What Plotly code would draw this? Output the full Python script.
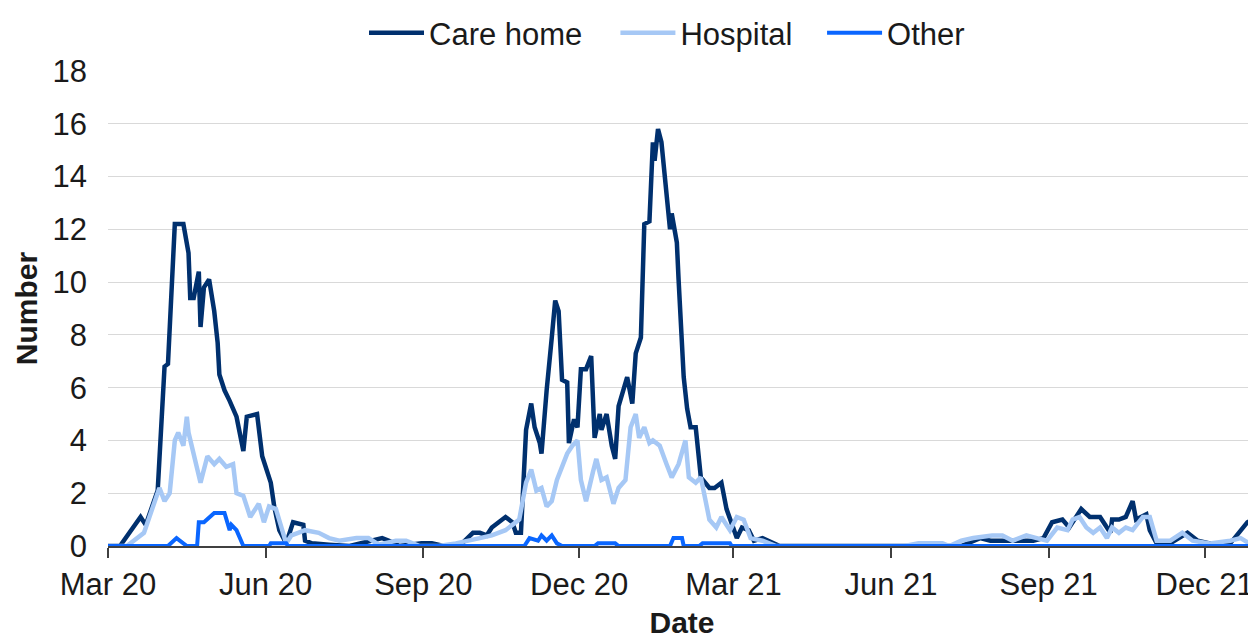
import plotly.graph_objects as go

# ---------------- data ----------------
care_dates = [
    "2020-03-01", "2020-03-08", "2020-03-20", "2020-03-23", "2020-03-30", "2020-04-03", "2020-04-05",
    "2020-04-07", "2020-04-09", "2020-04-14", "2020-04-17", "2020-04-18", "2020-04-20", "2020-04-23",
    "2020-04-24", "2020-04-26", "2020-04-29", "2020-05-02", "2020-05-04", "2020-05-05", "2020-05-08",
    "2020-05-11", "2020-05-15", "2020-05-19", "2020-05-21", "2020-05-27", "2020-05-30", "2020-06-04",
    "2020-06-06", "2020-06-09", "2020-06-13", "2020-06-17", "2020-06-23", "2020-06-24", "2020-06-28",
    "2020-07-08", "2020-07-20", "2020-08-08", "2020-08-12", "2020-08-18", "2020-08-31", "2020-09-06",
    "2020-09-13", "2020-09-22", "2020-09-30", "2020-10-04", "2020-10-08", "2020-10-11", "2020-10-15",
    "2020-10-19", "2020-10-23", "2020-10-25", "2020-10-28", "2020-10-31", "2020-11-03", "2020-11-05",
    "2020-11-08", "2020-11-09", "2020-11-12", "2020-11-14", "2020-11-15", "2020-11-17", "2020-11-19",
    "2020-11-21", "2020-11-24", "2020-11-25", "2020-11-28", "2020-11-30", "2020-12-02", "2020-12-05",
    "2020-12-08", "2020-12-10", "2020-12-13", "2020-12-14", "2020-12-17", "2020-12-20", "2020-12-22",
    "2020-12-24", "2020-12-27", "2020-12-29", "2021-01-01", "2021-01-03", "2021-01-06", "2021-01-08",
    "2021-01-11", "2021-01-13", "2021-01-14", "2021-01-16", "2021-01-18", "2021-01-21", "2021-01-23",
    "2021-01-24", "2021-01-27", "2021-01-28", "2021-01-31", "2021-02-02", "2021-02-04", "2021-02-07",
    "2021-02-10", "2021-02-15", "2021-02-18", "2021-02-22", "2021-02-25", "2021-03-03", "2021-03-06",
    "2021-03-10", "2021-03-13", "2021-03-18", "2021-03-24", "2021-03-28", "2021-07-12", "2021-07-19",
    "2021-07-23", "2021-07-29", "2021-08-08", "2021-08-16", "2021-08-23", "2021-08-29", "2021-09-03",
    "2021-09-09", "2021-09-13", "2021-09-20", "2021-09-25", "2021-10-01", "2021-10-07", "2021-10-08",
    "2021-10-12", "2021-10-16", "2021-10-20", "2021-10-22", "2021-10-28", "2021-10-30", "2021-11-03",
    "2021-11-11", "2021-11-21", "2021-11-27", "2021-12-04", "2021-12-16", "2021-12-22", "2021-12-26",
    "2021-12-29", "2021-12-31",
]
care_home = [
    0, 0, 1.1, 0.8, 2.1, 6.8, 6.9,
    10.0, 12.2, 12.2, 11.1, 9.4, 9.4, 10.4,
    8.3, 9.8, 10.1, 8.9, 7.7, 6.5, 5.9,
    5.5, 4.9, 3.6, 4.9, 5.0, 3.4, 2.4,
    1.5, 0.6, 0.1, 0.9, 0.8, 0.2, 0.1,
    0.05, 0.0, 0.3, 0.2, 0.0, 0.1, 0.1,
    0.0, 0.0, 0.5, 0.5, 0.4, 0.7, 0.9,
    1.1, 0.9, 0.5, 0.5, 4.4, 5.4, 4.5,
    3.9, 3.5, 5.9, 7.5, 7.9, 9.3, 8.9,
    6.3, 6.2, 3.9, 4.8, 4.5, 6.7, 6.7,
    7.2, 4.1, 5.0, 4.4, 5.0, 3.8, 3.3,
    5.3, 5.9, 6.4, 5.4, 7.3, 7.9, 12.2,
    12.3, 15.3, 14.6, 15.8, 15.3, 13.1, 12.0,
    12.6, 11.5, 10.1, 6.4, 5.2, 4.5, 4.5,
    2.6, 2.2, 2.2, 2.4, 1.4, 0.3, 0.7,
    0.6, 0.2, 0.3, 0.1, 0.0, 0.0, 0.2,
    0.3, 0.2, 0.2, 0.2, 0.2, 0.3, 0.9,
    1.0, 0.7, 1.4, 1.1, 1.1, 0.5, 1.0,
    1.0, 1.1, 1.7, 1.0, 1.2, 0.6, 0.1,
    0.1, 0.5, 0.2, 0.1, 0.1, 0.6, 0.9,
    1.0, 0.8,
]

hosp_dates = [
    "2020-03-01", "2020-03-12", "2020-03-22", "2020-03-28", "2020-03-31", "2020-04-03", "2020-04-06",
    "2020-04-09", "2020-04-11", "2020-04-14", "2020-04-16", "2020-04-17", "2020-04-20", "2020-04-24",
    "2020-04-28", "2020-05-02", "2020-05-05", "2020-05-09", "2020-05-13", "2020-05-15", "2020-05-19",
    "2020-05-23", "2020-05-28", "2020-05-31", "2020-06-03", "2020-06-07", "2020-06-13", "2020-06-16",
    "2020-06-20", "2020-06-24", "2020-07-02", "2020-07-08", "2020-07-14", "2020-07-24", "2020-07-31",
    "2020-08-06", "2020-08-16", "2020-08-22", "2020-08-30", "2020-09-10", "2020-09-20", "2020-09-26",
    "2020-10-04", "2020-10-11", "2020-10-19", "2020-10-23", "2020-10-27", "2020-10-31", "2020-11-03",
    "2020-11-06", "2020-11-09", "2020-11-12", "2020-11-15", "2020-11-18", "2020-11-21", "2020-11-24",
    "2020-11-27", "2020-11-30", "2020-12-02", "2020-12-05", "2020-12-09", "2020-12-11", "2020-12-14",
    "2020-12-17", "2020-12-21", "2020-12-24", "2020-12-28", "2020-12-31", "2021-01-03", "2021-01-05",
    "2021-01-08", "2021-01-11", "2021-01-13", "2021-01-17", "2021-01-21", "2021-01-24", "2021-01-28",
    "2021-02-01", "2021-02-03", "2021-02-07", "2021-02-10", "2021-02-15", "2021-02-19", "2021-02-22",
    "2021-02-27", "2021-03-03", "2021-03-07", "2021-03-11", "2021-03-18", "2021-03-26", "2021-06-09",
    "2021-06-17", "2021-07-01", "2021-07-05", "2021-07-12", "2021-07-19", "2021-07-30", "2021-08-05",
    "2021-08-11", "2021-08-19", "2021-08-25", "2021-08-31", "2021-09-06", "2021-09-12", "2021-09-15",
    "2021-09-19", "2021-09-23", "2021-09-27", "2021-10-01", "2021-10-05", "2021-10-08", "2021-10-12",
    "2021-10-16", "2021-10-20", "2021-10-26", "2021-10-30", "2021-11-03", "2021-11-11", "2021-11-18",
    "2021-11-24", "2021-12-04", "2021-12-16", "2021-12-22", "2021-12-27", "2021-12-31",
]
hospital = [
    0, 0, 0.5, 1.7, 2.2, 1.7, 2.0,
    4.0, 4.3, 3.8, 4.9, 4.3, 3.5, 2.4,
    3.4, 3.1, 3.3, 3.0, 3.1, 2.0, 1.9,
    1.1, 1.6, 0.9, 1.5, 1.4, 0.1, 0.4,
    0.5, 0.6, 0.5, 0.3, 0.2, 0.3, 0.3,
    0.05, 0.2, 0.2, 0.0, 0.0, 0.1, 0.2,
    0.3, 0.4, 0.6, 0.8, 1.0, 2.4, 2.9,
    2.1, 2.2, 1.5, 1.7, 2.5, 3.0, 3.5,
    3.8, 4.0, 2.5, 1.7, 2.8, 3.3, 2.5,
    2.6, 1.6, 2.2, 2.5, 4.5, 5.0, 4.1,
    4.5, 3.9, 4.0, 3.8, 3.1, 2.6, 3.1,
    4.0, 2.6, 2.4, 2.6, 1.0, 0.7, 1.1,
    0.6, 1.1, 1.0, 0.3, 0.2, 0.0, 0.0,
    0.1, 0.1, 0.0, 0.2, 0.3, 0.4, 0.4,
    0.2, 0.4, 0.3, 0.2, 0.7, 0.6, 1.0,
    1.1, 0.7, 0.5, 0.7, 0.3, 0.7, 0.5,
    0.7, 0.6, 1.1, 1.1, 0.2, 0.2, 0.5,
    0.2, 0.1, 0.2, 0.3, 0.1, 0.1,
]

other_dates = [
    "2020-03-01", "2020-04-05", "2020-04-10", "2020-04-14", "2020-04-16", "2020-04-22", "2020-04-23",
    "2020-04-26", "2020-05-02", "2020-05-08", "2020-05-11", "2020-05-12", "2020-05-15", "2020-05-19",
    "2020-06-03", "2020-06-04", "2020-06-13", "2020-06-14", "2020-10-30", "2020-11-02", "2020-11-07",
    "2020-11-09", "2020-11-12", "2020-11-15", "2020-11-18", "2020-11-21", "2020-12-10", "2020-12-12",
    "2020-12-22", "2020-12-24", "2021-01-23", "2021-01-25", "2021-01-30", "2021-01-31", "2021-02-09",
    "2021-02-11", "2021-02-27", "2021-02-28", "2021-12-31",
]
other = [
    0, 0, 0.3, 0.1, 0, 0, 0.9,
    0.9, 1.25, 1.25, 0.6, 0.8, 0.6, 0,
    0, 0.1, 0.1, 0, 0, 0.3, 0.2,
    0.4, 0.2, 0.4, 0.1, 0, 0, 0.1,
    0.1, 0, 0, 0.3, 0.3, 0, 0,
    0.1, 0.1, 0, 0,
]

series_names = ["Care home", "Hospital", "Other"]
series_colors = ["#00306e", "#a6c8f5", "#0a66ff"]
y_ticks = [0, 2, 4, 6, 8, 10, 12, 14, 16, 18]

FONT = "Liberation Sans, Arial, sans-serif"
TXT = "#1a1a1a"

fig = go.Figure()
for name, xs, ys, col, w, lg in [
    (series_names[0], care_dates, care_home, series_colors[0], 4.5, "legend"),
    (series_names[1], hosp_dates, hospital, series_colors[1], 4.5, "legend2"),
    (series_names[2], other_dates, other, series_colors[2], 4, "legend3"),
]:
    fig.add_trace(go.Scatter(x=xs, y=ys, mode="lines", name=name, legend=lg,
                             line=dict(color=col, width=w)))

legend_common = dict(orientation="h", xanchor="left", y=1.08, yanchor="middle",
                     font=dict(size=31, color=TXT), itemwidth=55,
                     bgcolor="rgba(0,0,0,0)")

fig.update_layout(
    width=1248, height=631,
    margin=dict(l=100, r=0, t=63, b=93, autoexpand=False),
    plot_bgcolor="white", paper_bgcolor="white",
    font=dict(family=FONT, size=31, color=TXT),
    showlegend=True,
    legend=dict(x=0.223, **legend_common),
    legend2=dict(x=0.442, **legend_common),
    legend3=dict(x=0.622, **legend_common),
)
fig.update_xaxes(
    type="date", range=["2020-03-01", "2021-12-31"],
    tickvals=["2020-03-01", "2020-06-01", "2020-09-01", "2020-12-01",
              "2021-03-01", "2021-06-01", "2021-09-01", "2021-12-01"],
    tickformat="%b %y",
    ticks="outside", ticklen=10, tickcolor="#404040", tickwidth=1.5,
    showline=True, linecolor="#404040", linewidth=1.5,
    showgrid=False, zeroline=False,
    tickfont=dict(size=31, color=TXT),
    title=dict(text="<b>Date</b>", font=dict(size=30, color=TXT), standoff=26),
    automargin=False,
)
fig.update_yaxes(
    range=[0, 18], tickvals=y_ticks,
    showgrid=True, gridcolor="#d9d9d9", gridwidth=1.3,
    zeroline=False, showline=False, ticks="",
    tickfont=dict(size=31, color=TXT), ticklabelstandoff=20,
    title=dict(text="<b>Number</b>", font=dict(size=30, color=TXT), standoff=6),
    automargin=False,
)

fig.write_html("out.html")
